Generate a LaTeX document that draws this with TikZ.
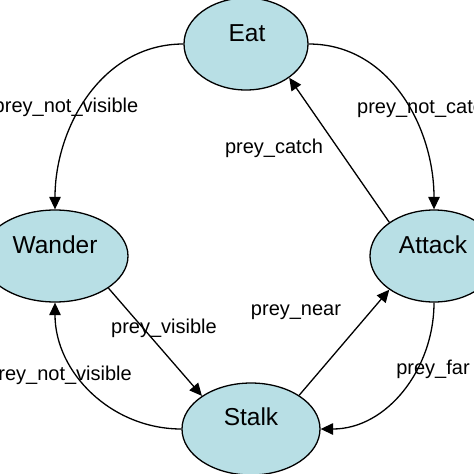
\documentclass[tikz,border=0pt]{standalone}
\usepackage{fontspec}
\setmainfont{Liberation Sans}
\usetikzlibrary{shapes.geometric,arrows.meta}
\definecolor{statefill}{RGB}{184,223,229}
\tikzset{
  state/.style={ellipse, draw=black, fill=statefill, line width=1.3pt, inner sep=0pt,
    minimum height=92pt},
  stxt/.style={font=\fontsize{24.5}{28}\selectfont, inner sep=0pt},
  lbl/.style={font=\fontsize{20}{24}\selectfont, inner sep=0pt},
  conn/.style={draw=black, line width=1.3pt, -{Triangle[length=12.5pt,width=11.5pt]}}
}
\begin{document}
\begin{tikzpicture}[x=1pt,y=-1pt]
\useasboundingbox (0,0) rectangle (474,474);
\clip (0,0) rectangle (474,474);
\node[state, minimum width=124pt] (eat) at (246,44) {};
\node[state, minimum width=146pt] (wander) at (55,256) {};
\node[state, minimum width=128pt] (attack) at (434,256) {};
\node[state, minimum width=138pt] (stalk) at (251,429) {};
\node[stxt] (eat-t) at (247,33) {Eat};
\node[stxt] (wander-t) at (55,245) {Wander};
\node[stxt] (attack-t) at (433,245) {Attack};
\node[stxt] (stalk-t) at (251,417) {Stalk};

\draw[conn] (eat.west) to[out=180,in=90] (wander.north);
\draw[conn] (eat.east) to[out=0,in=90] (attack.north);
\draw[conn] (attack.143) -- (eat.-38);
\draw[conn] (wander.-31) -- (stalk.146);
\draw[conn] (stalk.35) -- (attack.-143);
\draw[conn] (attack.south) to[out=-90,in=0] (stalk.east);
\draw[conn] (stalk.west) to[out=180,in=-90] (wander.south);

\node[lbl] (l1) at (66,107) {prey\_not\_visible};
\node[lbl] (l2) at (274,148) {prey\_catch};
\node[lbl, anchor=west] (l3) at (357,108) {prey\_not\_catch};
\node[lbl] (l4) at (164,328) {prey\_visible};
\node[lbl, anchor=east] (l5) at (132,375) {prey\_not\_visible};
\node[lbl] (l6) at (296,312) {prey\_near};
\node[lbl] (l7) at (433,369) {prey\_far};
\end{tikzpicture}
\end{document}
